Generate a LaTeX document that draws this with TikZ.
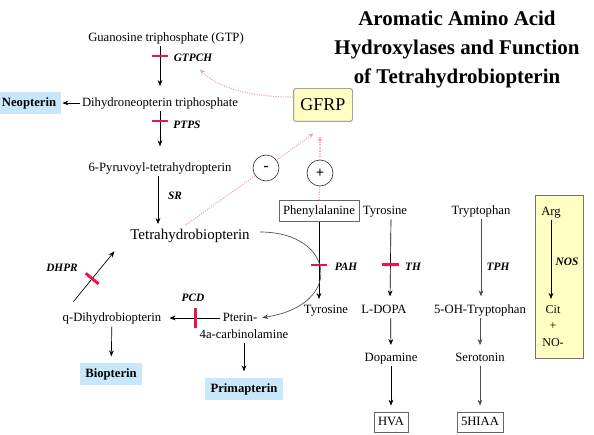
\documentclass[tikz,border=0pt]{standalone}
\usepackage{fontspec}
\setmainfont{Liberation Serif}
\usetikzlibrary{arrows.meta}
\definecolor{barred}{HTML}{E8174B}
\definecolor{pinkdot}{HTML}{F4A0AA}
\definecolor{paleyel}{HTML}{FFFFC4}
\definecolor{paleblue}{HTML}{C9E7FA}

\begin{document}
\begin{tikzpicture}[x=0.75pt,y=-0.75pt,line width=0.5pt,
  txt/.style={font=\fontsize{9.5}{11}\selectfont,inner sep=1.5pt,text height=7pt,text depth=2pt},
  enz/.style={font=\fontsize{8.5}{10}\selectfont\bfseries\itshape,inner sep=1pt},
  inhib/.style={sloped,fill=barred,minimum width=2.2pt,minimum height=12.5pt,inner sep=0pt},
  arr/.style={-{Stealth[length=4.5pt,width=3.6pt]},shorten >=2pt},
  feed/.style={draw=pinkdot,densely dotted,line width=0.8pt},
  pterin/.style={txt,font=\fontsize{9.5}{11}\selectfont\bfseries,fill=paleblue,inner xsep=4pt,minimum height=16pt},
  endprod/.style={txt,draw=black!60,inner xsep=3pt,minimum height=15pt},
  sign/.style={circle,draw=black!80,minimum size=19.5pt,inner sep=0pt,font=\fontsize{11}{11}\selectfont\bfseries}]
  \useasboundingbox (0,0) rectangle (594,435);

  % title
  \node[align=center,font=\fontsize{15.7}{21.75}\selectfont\bfseries] (title) at (457,49)
    {Aromatic Amino Acid\\Hydroxylases and Function\\of Tetrahydrobiopterin};

  % cofactor synthesis
  \node[txt] (gtp) at (166,38) {Guanosine triphosphate (GTP)};
  \node[txt] (dnp) at (160,103) {Dihydroneopterin triphosphate};
  \node[pterin] (neo) at (29,103) {Neopterin};
  \node[txt] (pt6) at (160,168) {6-Pyruvoyl-tetrahydropterin};
  \node[txt,font=\fontsize{11.2}{13}\selectfont,text height=8pt,text depth=2.5pt] (thb) at (190,236)
    {Tetrahydrobiopterin};
  \node[enz] (gtpch) at (193,58) {GTPCH};
  \node[enz] (ptps) at (187,125) {PTPS};
  \node[enz] (sr) at (175,196) {SR};

  \draw[arr,shorten >=6.5pt] (gtp.south -| dnp) -- node[inhib,pos=0.2]{} (dnp);
  \draw[arr,shorten >=0.5pt] (dnp) -- (neo);
  \draw[arr,shorten >=10pt] (dnp) -- node[inhib,pos=0.2]{} (pt6);
  \draw[arr] ([xshift=-1.5pt]pt6.south) -- ([xshift=-1.5pt]pt6.south |- thb.north);

  % regulation
  \node[draw=black!55,fill=paleyel,rounded corners=1.5pt,minimum width=44pt,minimum height=24.5pt,
    font=\fontsize{13.5}{14}\selectfont] (gfrp) at (323,105) {GFRP};
  \node[sign] (minus) at (266,168) {-};
  \node[sign] (plus) at (320,173) {+};

  % recycling
  \node[txt] (ptr) at (240,318) {Pterin-};
  \node[txt] (carb) at (244,335) {4a-carbinolamine};
  \node[txt] (qdh) at (112,318) {q-Dihydrobiopterin};
  \node[pterin] (bio) at (111,374) {Biopterin};
  \node[pterin] (prim) at (244,389) {Primapterin};
  \node[enz] (pcd) at (193,298) {PCD};
  \node[enz] (dhpr) at (62,268) {DHPR};

  \draw[arr,shorten >=4.5pt] (ptr) -- node[inhib,pos=0.44,minimum height=15pt]{} (qdh);
  \draw[arr] ([shift={(13,-8)}]qdh.north west) -- node[inhib,pos=0.44]{} ([shift={(-12,4)}]thb.south west);
  \draw[arr,shorten >=5pt] (qdh) -- (bio);
  \draw[arr,shorten >=5pt] (carb) -- (prim);

  % hydroxylases
  \node[endprod,minimum height=16pt] (phe) at (319,211) {Phenylalanine};
  \node[txt] (tyr) at (385,211) {Tyrosine};
  \node[txt] (trp) at (481,211) {Tryptophan};
  \node[txt] (tyrb) at (326,310) {Tyrosine};
  \node[txt] (ldopa) at (384,310) {L-DOPA};
  \node[txt] (dopa) at (391,358) {Dopamine};
  \node[endprod] (hva) at (391,422) {HVA};
  \node[txt] (ohtrp) at (480,310) {5-OH-Tryptophan};
  \node[txt] (sero) at (480,358) {Serotonin};
  \node[endprod] (hiaa) at (480,422) {5HIAA};
  \node[enz] (pah) at (346,267) {PAH};
  \node[enz] (th) at (413,267) {TH};
  \node[enz] (tph) at (498,267) {TPH};

  \draw[arr] (phe) -- node[inhib,pos=0.54]{} (phe |- tyrb.north);
  \draw[arr,shorten >=4pt] ([xshift=4.5pt]tyr.south) -- node[inhib,pos=0.55]{} ([xshift=4.5pt]ldopa.north);
  \draw[arr,shorten >=4pt,draw=black!70] (trp) -- (trp |- ohtrp.north);
  \draw[arr,shorten >=3.5pt] ([xshift=5pt]ldopa.south) -- (dopa);
  \draw[arr,shorten >=4.5pt] (dopa) -- (hva);
  \draw[arr,shorten >=3.5pt,draw=black!70] (ohtrp) -- (sero);
  \draw[arr,shorten >=4.5pt,draw=black!70] (sero) -- (hiaa);
  \draw[arr,draw=black!70] ([shift={(8,-4)}]thb.east) .. controls (335,232) and (345,305) .. (ptr.east);

  % nitric oxide synthase
  \draw[draw=black!55,fill=paleyel] (535,195) rectangle (583,358);
  \node[txt] (arg) at (551,212) {Arg};
  \node[align=center,font=\fontsize{9}{12.5}\selectfont,inner sep=1.5pt] (cit) at (553,326) {Cit\\+\\NO-};
  \node[enz] (nos) at (567,262) {NOS};
  \draw[arr,shorten >=3pt] (arg) -- (arg |- cit.north);

  % feedback
  \draw[feed,shorten <=2pt] ([xshift=-5pt]thb.north) -- (minus);
  \draw[feed,-{Stealth[length=4pt,width=3.4pt]},shorten >=15pt] (minus) -- ([xshift=5pt]gfrp.south);
  \draw[feed] (phe) -- (plus);
  \draw[feed,-{Stealth[length=4pt,width=3.4pt]},shorten >=11pt] (plus) -- (plus |- gfrp.south);
  \draw[feed,-{Stealth[length=4pt,width=3.4pt]}] (gfrp.165) .. controls (255,97) and (220,90) .. ([shift={(7,6)}]gtpch.south);
\end{tikzpicture}
\end{document}
